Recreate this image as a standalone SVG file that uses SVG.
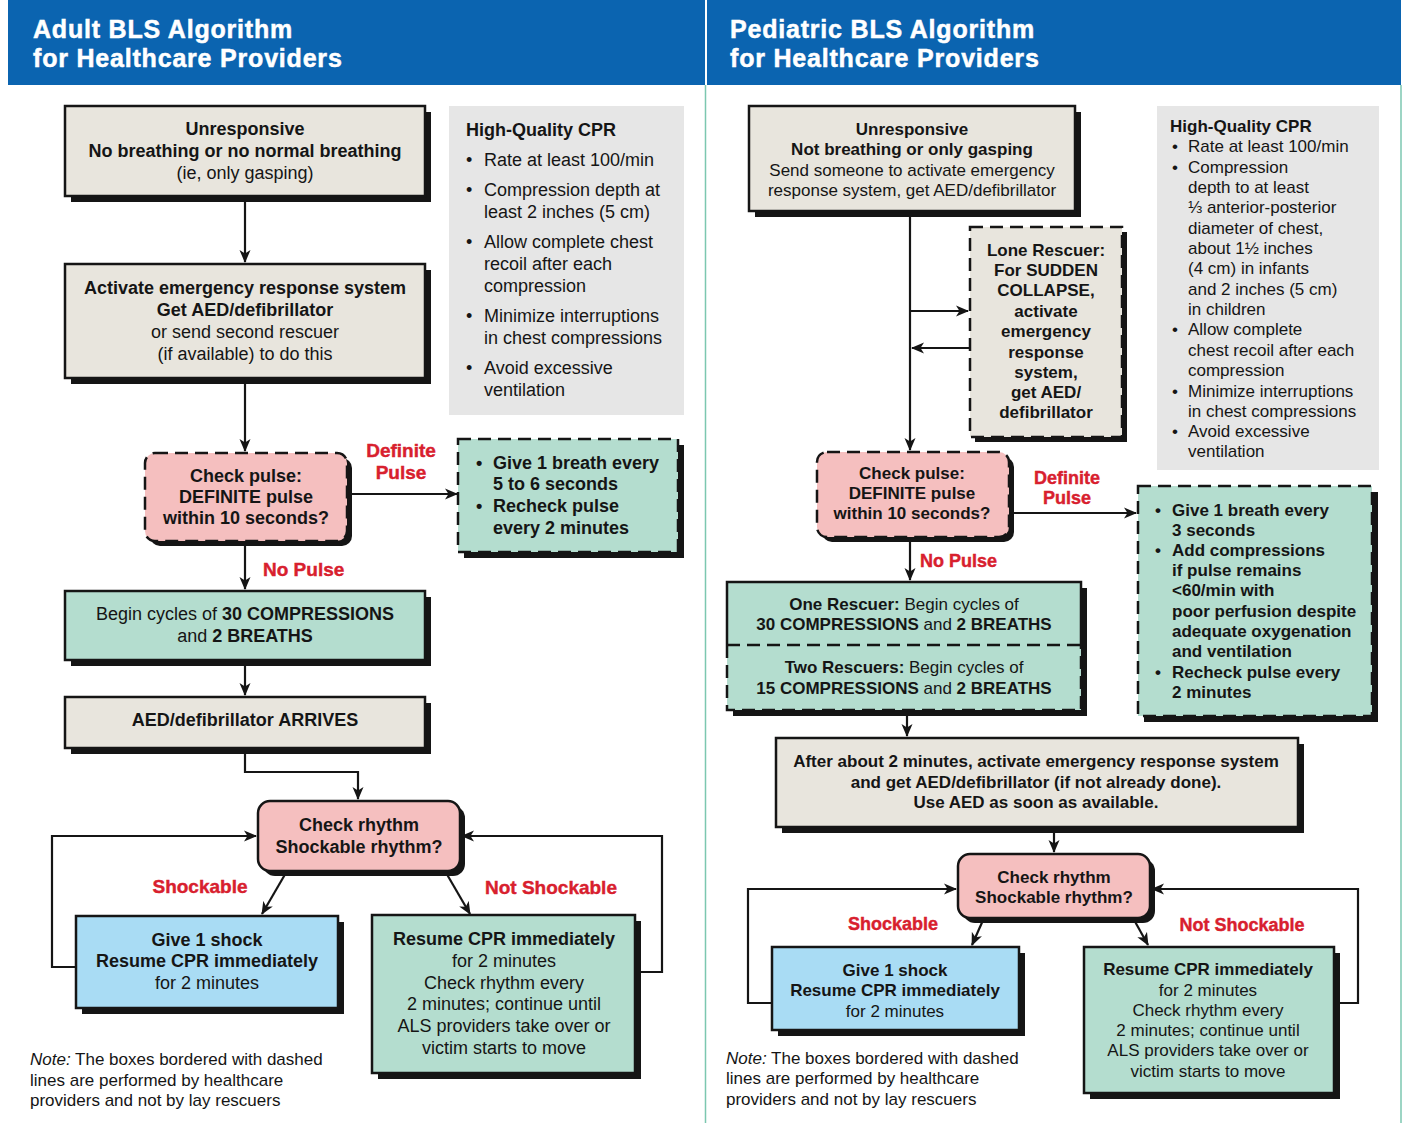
<svg xmlns="http://www.w3.org/2000/svg" width="1409" height="1123" viewBox="0 0 1409 1123">
<defs>
<style>
.bg{fill:#ffffff}
.hdr{fill:#0b64b0}
.ht{font-family:"Liberation Sans",Arial,sans-serif;font-weight:bold;font-size:25px;fill:#ffffff;letter-spacing:0.8px;stroke:#ffffff;stroke-width:0.5px}
.sh{fill:#151515}
.bx{stroke:#151515;stroke-width:2.5}
.dash{stroke-dasharray:13 7}
.beige{fill:#e8e5dd}
.pink{fill:#f5bfbf}
.mint{fill:#b4ddcf}
.blue{fill:#a9dcf4}
.panel{fill:#e6e6e6}
.t{font-family:"Liberation Sans",Arial,sans-serif;font-size:18px;fill:#151515;text-anchor:middle}
.s{font-size:17px}
.l{text-anchor:start}
.b{font-weight:bold}
.red{font-family:"Liberation Sans",Arial,sans-serif;font-weight:bold;font-size:19px;fill:#d8202e;text-anchor:middle;stroke:#d8202e;stroke-width:0.4px}
.rs{font-size:18px}
.conn path{fill:none;stroke:#151515;stroke-width:2.2}
.vl{stroke:#7cc7b0;stroke-width:1.5}
</style>
<marker id="ah" markerWidth="14" markerHeight="12" refX="12" refY="6" orient="auto" markerUnits="userSpaceOnUse">
<path d="M0,0.5 L13,6 L0,11.5 L3.5,6 Z" fill="#151515"/>
</marker>
</defs>
<rect class="bg" x="0" y="0" width="1409" height="1123"/>

<g id="headers">
<rect class="hdr" x="8" y="0" width="697" height="85"/>
<text class="ht" x="33" y="38">Adult BLS Algorithm</text>
<text class="ht" x="33" y="67">for Healthcare Providers</text>
<rect class="hdr" x="707" y="0" width="694" height="85"/>
<text class="ht" x="730" y="38">Pediatric BLS Algorithm</text>
<text class="ht" x="730" y="67">for Healthcare Providers</text>
<line class="vl" x1="705.5" y1="85" x2="705.5" y2="1123"/>
<line class="vl" x1="1401" y1="85" x2="1401" y2="1123"/>
</g>

<g class="conn" id="connectors">
<path d="M245,196 V262" marker-end="url(#ah)"/>
<path d="M245,378 V451" marker-end="url(#ah)"/>
<path d="M347,494 H457" marker-end="url(#ah)"/>
<path d="M245,541 V589" marker-end="url(#ah)"/>
<path d="M245,660 V695" marker-end="url(#ah)"/>
<path d="M245,748 V772 H358 V799" marker-end="url(#ah)"/>
<path d="M287,871 L262,914" marker-end="url(#ah)"/>
<path d="M445,871 L470,914" marker-end="url(#ah)"/>
<path d="M76,967 H52 V836 H256" marker-end="url(#ah)"/>
<path d="M635,972 H662 V836 H462" marker-end="url(#ah)"/>

<path d="M910,211 V450" marker-end="url(#ah)"/>
<path d="M910,311 H968" marker-end="url(#ah)"/>
<path d="M970,348 H912" marker-end="url(#ah)"/>
<path d="M1009,513 H1136" marker-end="url(#ah)"/>
<path d="M910,537 V580" marker-end="url(#ah)"/>
<path d="M907,710 V736" marker-end="url(#ah)"/>
<path d="M1054,827 V852" marker-end="url(#ah)"/>
<path d="M984,918 L972,945" marker-end="url(#ah)"/>
<path d="M1133,918 L1148,945" marker-end="url(#ah)"/>
<path d="M772,1003 H748 V889 H956" marker-end="url(#ah)"/>
<path d="M1334,1003 H1358 V889 H1152" marker-end="url(#ah)"/>
</g>

<g id="labels">
<text class="red" x="401" y="457">Definite</text>
<text class="red" x="401" y="479">Pulse</text>
<text class="red" x="263" y="576" style="text-anchor:start">No Pulse</text>
<text class="red" x="200" y="893">Shockable</text>
<text class="red" x="551" y="894">Not Shockable</text>
<text class="red rs" x="1067" y="484">Definite</text>
<text class="red rs" x="1067" y="504">Pulse</text>
<text class="red rs" x="920" y="567" style="text-anchor:start">No Pulse</text>
<text class="red rs" x="893" y="930">Shockable</text>
<text class="red rs" x="1242" y="931">Not Shockable</text>
</g>

<!-- LEFT: Adult -->
<g id="a-unresponsive">
<rect class="sh" x="71" y="112" width="360" height="90"/>
<rect class="bx beige" x="65" y="106" width="360" height="90"/>
<text class="t b" x="245" y="135">Unresponsive</text>
<text class="t b" x="245" y="157">No breathing or no normal breathing</text>
<text class="t" x="245" y="179">(ie, only gasping)</text>
</g>

<g id="a-activate">
<rect class="sh" x="71" y="270" width="360" height="114"/>
<rect class="bx beige" x="65" y="264" width="360" height="114"/>
<text class="t b" x="245" y="294">Activate emergency response system</text>
<text class="t b" x="245" y="316">Get AED/defibrillator</text>
<text class="t" x="245" y="338">or send second rescuer</text>
<text class="t" x="245" y="360">(if available) to do this</text>
</g>

<g id="a-cpr-panel">
<rect class="panel" x="449" y="106" width="235" height="309"/>
<text class="t b l" x="466" y="136">High-Quality CPR</text>
<g class="t l">
<text x="466" y="166">•</text><text x="484" y="166">Rate at least 100/min</text>
<text x="466" y="196">•</text><text x="484" y="196">Compression depth at</text>
<text x="484" y="218">least 2 inches (5 cm)</text>
<text x="466" y="248">•</text><text x="484" y="248">Allow complete chest</text>
<text x="484" y="270">recoil after each</text>
<text x="484" y="292">compression</text>
<text x="466" y="322">•</text><text x="484" y="322">Minimize interruptions</text>
<text x="484" y="344">in chest compressions</text>
<text x="466" y="374">•</text><text x="484" y="374">Avoid excessive</text>
<text x="484" y="396">ventilation</text>
</g>
</g>

<g id="a-checkpulse">
<rect class="sh" x="150" y="458" width="202" height="88" rx="10"/>
<rect class="bx pink dash" x="145" y="453" width="202" height="88" rx="10"/>
<text class="t b" x="246" y="482">Check pulse:</text>
<text class="t b" x="246" y="503">DEFINITE pulse</text>
<text class="t b" x="246" y="524">within 10 seconds?</text>
</g>

<g id="a-breath">
<rect class="sh" x="464" y="445" width="220" height="113"/>
<rect class="bx mint dash" x="458" y="439" width="220" height="113"/>
<g class="t b l">
<text x="476" y="469">•</text><text x="493" y="469">Give 1 breath every</text>
<text x="493" y="490">5 to 6 seconds</text>
<text x="476" y="512">•</text><text x="493" y="512">Recheck pulse</text>
<text x="493" y="534">every 2 minutes</text>
</g>
</g>

<g id="a-cycles">
<rect class="sh" x="71" y="597" width="360" height="69"/>
<rect class="bx mint" x="65" y="591" width="360" height="69"/>
<text class="t" x="245" y="620">Begin cycles of <tspan class="b">30 COMPRESSIONS</tspan></text>
<text class="t" x="245" y="642">and <tspan class="b">2 BREATHS</tspan></text>
</g>

<g id="a-aed">
<rect class="sh" x="71" y="703" width="360" height="51"/>
<rect class="bx beige" x="65" y="697" width="360" height="51"/>
<text class="t b" x="245" y="726">AED/defibrillator ARRIVES</text>
</g>

<g id="a-rhythm">
<rect class="sh" x="263" y="806" width="202" height="70" rx="12"/>
<rect class="bx pink" x="258" y="801" width="202" height="70" rx="12"/>
<text class="t b" x="359" y="831">Check rhythm</text>
<text class="t b" x="359" y="853">Shockable rhythm?</text>
</g>

<g id="a-shock">
<rect class="sh" x="82" y="922" width="262" height="92"/>
<rect class="bx blue" x="76" y="916" width="262" height="92"/>
<text class="t b" x="207" y="946">Give 1 shock</text>
<text class="t b" x="207" y="967">Resume CPR immediately</text>
<text class="t" x="207" y="989">for 2 minutes</text>
</g>

<g id="a-resume">
<rect class="sh" x="378" y="921" width="263" height="158"/>
<rect class="bx mint" x="372" y="915" width="263" height="158"/>
<text class="t b" x="504" y="945">Resume CPR immediately</text>
<text class="t" x="504" y="967">for 2 minutes</text>
<text class="t" x="504" y="989">Check rhythm every</text>
<text class="t" x="504" y="1010">2 minutes; continue until</text>
<text class="t" x="504" y="1032">ALS providers take over or</text>
<text class="t" x="504" y="1054">victim starts to move</text>
</g>

<g id="a-note" class="t s l">
<text x="30" y="1065"><tspan font-style="italic">Note:</tspan> The boxes bordered with dashed</text>
<text x="30" y="1086">lines are performed by healthcare</text>
<text x="30" y="1106">providers and not by lay rescuers</text>
</g>

<!-- RIGHT: Pediatric -->
<g id="p-unresponsive">
<rect class="sh" x="755" y="112" width="326" height="105"/>
<rect class="bx beige" x="749" y="106" width="326" height="105"/>
<text class="t s b" x="912" y="135">Unresponsive</text>
<text class="t s b" x="912" y="155">Not breathing or only gasping</text>
<text class="t s" x="912" y="176">Send someone to activate emergency</text>
<text class="t s" x="912" y="196">response system, get AED/defibrillator</text>
</g>

<g id="p-lone">
<rect class="sh" x="975" y="232" width="152" height="210"/>
<rect class="bx beige dash" x="970" y="227" width="152" height="210"/>
<g class="t s b">
<text x="1046" y="256">Lone Rescuer:</text>
<text x="1046" y="276">For SUDDEN</text>
<text x="1046" y="296">COLLAPSE,</text>
<text x="1046" y="317">activate</text>
<text x="1046" y="337">emergency</text>
<text x="1046" y="358">response</text>
<text x="1046" y="378">system,</text>
<text x="1046" y="398">get AED/</text>
<text x="1046" y="418">defibrillator</text>
</g>
</g>

<g id="p-cpr-panel">
<rect class="panel" x="1157" y="106" width="222" height="364"/>
<text class="t s b l" x="1170" y="132">High-Quality CPR</text>
<g class="t s l">
<text x="1172" y="152">•</text><text x="1188" y="152">Rate at least 100/min</text>
<text x="1172" y="173">•</text><text x="1188" y="173">Compression</text>
<text x="1188" y="193">depth to at least</text>
<text x="1188" y="213">⅓ anterior-posterior</text>
<text x="1188" y="234">diameter of chest,</text>
<text x="1188" y="254">about 1½ inches</text>
<text x="1188" y="274">(4 cm) in infants</text>
<text x="1188" y="295">and 2 inches (5 cm)</text>
<text x="1188" y="315">in children</text>
<text x="1172" y="335">•</text><text x="1188" y="335">Allow complete</text>
<text x="1188" y="356">chest recoil after each</text>
<text x="1188" y="376">compression</text>
<text x="1172" y="397">•</text><text x="1188" y="397">Minimize interruptions</text>
<text x="1188" y="417">in chest compressions</text>
<text x="1172" y="437">•</text><text x="1188" y="437">Avoid excessive</text>
<text x="1188" y="457">ventilation</text>
</g>
</g>

<g id="p-checkpulse">
<rect class="sh" x="822" y="457" width="192" height="85" rx="10"/>
<rect class="bx pink dash" x="817" y="452" width="192" height="85" rx="10"/>
<text class="t s b" x="912" y="479">Check pulse:</text>
<text class="t s b" x="912" y="499">DEFINITE pulse</text>
<text class="t s b" x="912" y="519">within 10 seconds?</text>
</g>

<g id="p-breath">
<rect class="sh" x="1144" y="492" width="234" height="230"/>
<rect class="bx mint dash" x="1138" y="486" width="234" height="230"/>
<g class="t s b l">
<text x="1155" y="516">•</text><text x="1172" y="516">Give 1 breath every</text>
<text x="1172" y="536">3 seconds</text>
<text x="1155" y="556">•</text><text x="1172" y="556">Add compressions</text>
<text x="1172" y="576">if pulse remains</text>
<text x="1172" y="596">&lt;60/min with</text>
<text x="1172" y="617">poor perfusion despite</text>
<text x="1172" y="637">adequate oxygenation</text>
<text x="1172" y="657">and ventilation</text>
<text x="1155" y="678">•</text><text x="1172" y="678">Recheck pulse every</text>
<text x="1172" y="698">2 minutes</text>
</g>
</g>

<g id="p-cycles">
<rect class="sh" x="733" y="588" width="354" height="128"/>
<rect class="mint" x="727" y="582" width="354" height="128"/>
<path d="M727,645 V582 H1081 V645" fill="none" stroke="#151515" stroke-width="2.5"/>
<path d="M727,645 V710 H1081 V645" fill="none" stroke="#151515" stroke-width="2.5" stroke-dasharray="13 7"/>
<line x1="727" y1="645" x2="1081" y2="645" stroke="#151515" stroke-width="2.5" stroke-dasharray="13 7"/>
<text class="t s" x="904" y="610"><tspan class="b">One Rescuer:</tspan> Begin cycles of</text>
<text class="t s" x="904" y="630"><tspan class="b">30 COMPRESSIONS</tspan> and <tspan class="b">2 BREATHS</tspan></text>
<text class="t s" x="904" y="673"><tspan class="b">Two Rescuers:</tspan> Begin cycles of</text>
<text class="t s" x="904" y="694"><tspan class="b">15 COMPRESSIONS</tspan> and <tspan class="b">2 BREATHS</tspan></text>
</g>

<g id="p-after">
<rect class="sh" x="782" y="744" width="522" height="89"/>
<rect class="bx beige" x="776" y="738" width="522" height="89"/>
<text class="t s b" x="1036" y="767">After about 2 minutes, activate emergency response system</text>
<text class="t s b" x="1036" y="788">and get AED/defibrillator (if not already done).</text>
<text class="t s b" x="1036" y="808">Use AED as soon as available.</text>
</g>

<g id="p-rhythm">
<rect class="sh" x="963" y="859" width="192" height="64" rx="12"/>
<rect class="bx pink" x="958" y="854" width="192" height="64" rx="12"/>
<text class="t s b" x="1054" y="883">Check rhythm</text>
<text class="t s b" x="1054" y="903">Shockable rhythm?</text>
</g>

<g id="p-shock">
<rect class="sh" x="778" y="953" width="247" height="83"/>
<rect class="bx blue" x="772" y="947" width="247" height="83"/>
<text class="t s b" x="895" y="976">Give 1 shock</text>
<text class="t s b" x="895" y="996">Resume CPR immediately</text>
<text class="t s" x="895" y="1017">for 2 minutes</text>
</g>

<g id="p-resume">
<rect class="sh" x="1090" y="953" width="250" height="146"/>
<rect class="bx mint" x="1084" y="947" width="250" height="146"/>
<text class="t s b" x="1208" y="975">Resume CPR immediately</text>
<text class="t s" x="1208" y="996">for 2 minutes</text>
<text class="t s" x="1208" y="1016">Check rhythm every</text>
<text class="t s" x="1208" y="1036">2 minutes; continue until</text>
<text class="t s" x="1208" y="1056">ALS providers take over or</text>
<text class="t s" x="1208" y="1077">victim starts to move</text>
</g>

<g id="p-note" class="t s l">
<text x="726" y="1064"><tspan font-style="italic">Note:</tspan> The boxes bordered with dashed</text>
<text x="726" y="1084">lines are performed by healthcare</text>
<text x="726" y="1105">providers and not by lay rescuers</text>
</g>
</svg>
